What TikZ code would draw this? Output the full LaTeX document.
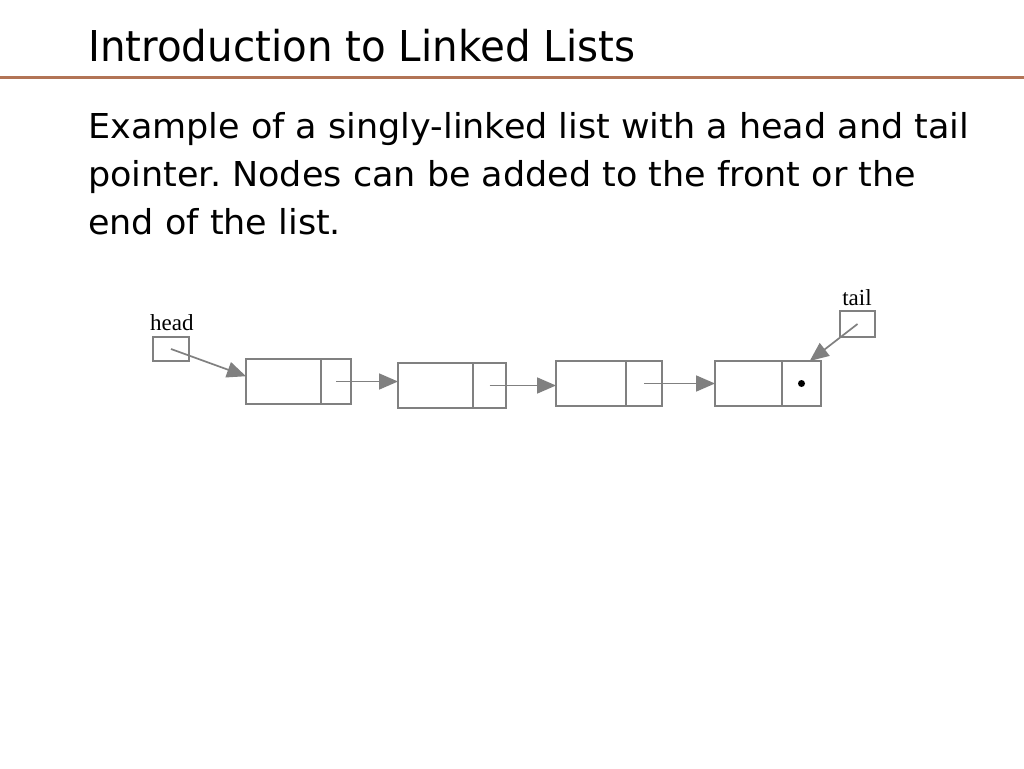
\documentclass[tikz,border=0pt]{standalone}
\usepackage{fontspec}
\setmainfont{DejaVu Sans}
\newfontfamily\titlefont[FakeStretch=0.95]{DejaVu Sans}
\newfontfamily\bodyfont[FakeStretch=1.02]{DejaVu Sans}
\newfontfamily\labelfont{Liberation Serif}
\usetikzlibrary{arrows.meta}
\definecolor{boxgray}{RGB}{128,128,128}
\definecolor{rulebrown}{RGB}{178,116,86}
\frenchspacing
\begin{document}
\begin{tikzpicture}[x=1pt,y=-1pt,
  cell/.style={draw=boxgray,line width=1.7pt,minimum height=45pt,inner sep=0pt,outer sep=0pt},
  link/.style={draw=boxgray,line width=1.7pt,-{Triangle[length=19pt,width=16pt]}},
  txt/.style={anchor=base west,inner sep=0pt}]
\useasboundingbox[fill=white] (0,0) rectangle (1024,768);
% title and rule
\node[txt,font=\titlefont\fontsize{42.5}{48}\selectfont] (title) at (88,62) {Introduction to Linked Lists};
\draw[rulebrown,line width=3pt] (0,77) -- (1024,77);
% body text
\node[txt,font=\bodyfont\fontsize{34.3}{48}\selectfont] (line1) at (88,138.3) {Example of a singly-linked list with a head and tail};
\node[txt,font=\bodyfont\fontsize{34.3}{48}\selectfont] (line2) at (88,186.3) {pointer. Nodes can be added to the front or the};
\node[txt,font=\bodyfont\fontsize{34.3}{48}\selectfont] (line3) at (88,234.3) {end of the list.};
% head and tail pointers
\node[txt,font=\labelfont\fontsize{23}{23}\selectfont] (headlabel) at (150,330) {head};
\node[cell,anchor=north west,minimum width=36pt,minimum height=24pt] (hd) at (153,337) {};
\node[anchor=base,inner sep=0pt,font=\labelfont\fontsize{23}{23}\selectfont] (taillabel) at (857,305) {tail};
\node[cell,anchor=north west,minimum width=35pt,minimum height=26pt] (tl) at (840,311) {};
% list nodes
\foreach \i/\x/\y/\dw/\pw in {1/246/359/75/30,2/398/363/75/33,3/556/361/70/36,4/715/361/67/39}{
  \node[cell,anchor=north west,minimum width=\dw pt] (d\i) at (\x,\y) {};
  \node[cell,anchor=west,minimum width=\pw pt] (p\i) at (d\i.east) {};
}
\node[circle,fill=black,minimum size=7pt,inner sep=0pt] (dot) at (p4.center) {};
% links
\foreach \i/\j in {1/2,2/3,3/4} \draw[link] (p\i.center) -- (p\i.center -| d\j.west);
\draw[link] (hd.center) -- (d1.172);
\draw[link] (tl.center) -- (p4.70);
\end{tikzpicture}
\end{document}
